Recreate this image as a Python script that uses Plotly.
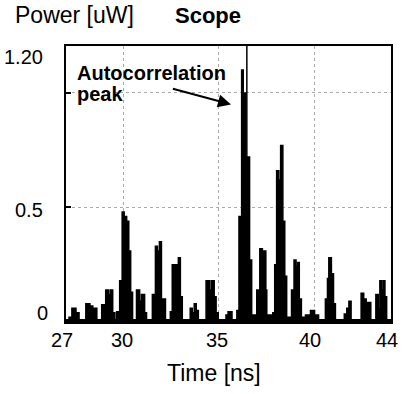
import plotly.graph_objects as go

# Step-shaped scope trace: segment start times (ns) and power levels (uW)
seg_start_ns = [27.00, 27.16, 27.31, 27.52, 27.68, 28.04, 28.25, 28.40, 28.61, 28.87,
                29.08, 29.24, 29.34, 29.44, 29.55, 29.65, 29.76, 29.81, 29.94, 30.04,
                30.17, 30.28, 30.38, 30.48, 30.69, 30.85, 30.95, 31.11, 31.21, 31.52,
                31.68, 31.78, 31.89, 31.99, 32.20, 32.46, 32.56, 32.88, 32.98, 33.08,
                33.50, 33.60, 33.71, 33.81, 33.92, 34.33, 34.49, 34.59, 34.75, 34.85,
                34.96, 35.37, 35.48, 35.68, 35.94, 36.05, 36.19, 36.27, 36.40, 36.60,
                36.71, 36.98, 37.14, 37.27, 37.35, 37.45, 37.50, 37.82, 37.92, 38.02,
                38.13, 38.23, 38.34, 38.44, 38.54, 38.80, 38.93, 39.03, 39.12, 39.20,
                39.31, 39.53, 39.79, 40.00, 40.21, 40.57, 40.68, 40.75, 40.88, 40.99,
                41.09, 41.56, 41.69, 41.80, 41.91, 42.44, 42.57, 42.70, 42.94, 43.21,
                43.33, 43.42, 43.50, 43.59, 43.68, 43.77]
power_uw = [0.01, 0.02, 0.06, 0.04, 0.01, 0.08, 0.07, 0.06, 0.01, 0.075,
            0.14, 0.12, 0.14, 0.04, 0.01, 0.045, 0.0, 0.18, 0.48, 0.46,
            0.44, 0.31, 0.13, 0.01, 0.14, 0.09, 0.12, 0.04, 0.01, 0.12,
            0.33, 0.31, 0.35, 0.10, 0.01, 0.045, 0.25, 0.28, 0.11, 0.01,
            0.06, 0.04, 0.08, 0.05, 0.01, 0.18, 0.14, 0.18, 0.11, 0.04,
            0.01, 0.03, 0.045, 0.01, 0.05, 0.46, 1.10, 1.00, 0.72, 0.27,
            0.03, 0.14, 0.32, 0.30, 0.31, 0.14, 0.03, 0.04, 0.25, 0.66,
            0.62, 0.77, 0.44, 0.20, 0.02, 0.14, 0.27, 0.24, 0.26, 0.10,
            0.02, 0.03, 0.05, 0.03, 0.01, 0.10, 0.19, 0.28, 0.21, 0.08,
            0.01, 0.035, 0.06, 0.09, 0.01, 0.125, 0.10, 0.085, 0.01, 0.12,
            0.06, 0.18, 0.14, 0.18, 0.11, 0.01]
t_end = 44.0
cursor_ns = 36.46

x_tick_vals = [27, 30, 35, 40, 44]
x_tick_text = ["27", "30", "35", "40", "44"]
x_grid_vals = [30, 35, 40]
y_tick_vals = [0, 0.5, 1.2]
y_tick_text = ["0", "0.5", "1.20"]
y_grid_vals = [0.5, 1.0]

FONT = "Arial, Liberation Sans, Helvetica, sans-serif"

xs = seg_start_ns + [t_end]
ys = power_uw + [power_uw[-1]]

fig = go.Figure()
fig.add_trace(go.Scatter(
    x=xs, y=ys, mode="lines", line_shape="hv",
    line=dict(color="black", width=1.6),
    fill="tozeroy", fillcolor="black", hoverinfo="skip", showlegend=False,
))

fig.update_layout(
    width=402, height=394,
    margin=dict(l=66, r=9, t=46, b=72),
    paper_bgcolor="white", plot_bgcolor="white",
    font=dict(family=FONT, color="black", size=20),
    showlegend=False,
    xaxis=dict(range=[27, 44], tickvals=x_grid_vals, showticklabels=False, ticks="",
               showgrid=True, gridcolor="#aaaaaa", griddash="dot", gridwidth=1,
               showline=True, linecolor="black", linewidth=1.5, mirror=True, zeroline=False),
    yaxis=dict(range=[0, 1.205], tickvals=y_grid_vals, showticklabels=False,
               ticks="inside", ticklen=5, tickwidth=1.5, tickcolor="black",
               showgrid=True, gridcolor="#aaaaaa", griddash="dot", gridwidth=1,
               showline=True, linecolor="black", linewidth=1.5, mirror=True, zeroline=False),
)

# cursor line at the autocorrelation peak
fig.add_shape(type="line", xref="x", yref="paper", x0=cursor_ns, x1=cursor_ns, y0=0, y1=1,
              line=dict(color="black", width=1.5))

# x tick labels (placed in paper coordinates so the end labels are not hidden)
x_label_paper = [-0.012, 0.171, 0.465, 0.752, 0.988]
for txt, xp in zip(x_tick_text, x_label_paper):
    fig.add_annotation(x=xp, xref="paper", y=-0.065, yref="paper", text=txt, showarrow=False,
                       xanchor="center", yanchor="middle", font=dict(size=20))
# y tick labels
y_label_pos = [(-0.05, 0.033), (-0.064, 0.406), (-0.064, 0.96)]
for txt, (xp, yp) in zip(y_tick_text, y_label_pos):
    fig.add_annotation(x=xp, xref="paper", y=yp, yref="paper", text=txt, showarrow=False,
                       xanchor="right", yanchor="middle", font=dict(size=20))

# titles
fig.add_annotation(x=-0.162, xref="paper", y=1.112, yref="paper", text="Power [uW]",
                   showarrow=False, xanchor="left", yanchor="middle", font=dict(size=23))
fig.add_annotation(x=0.33, xref="paper", y=1.112, yref="paper", text="<b>Scope</b>",
                   showarrow=False, xanchor="left", yanchor="middle", font=dict(size=22))
fig.add_annotation(x=0.456, xref="paper", y=-0.185, yref="paper", text="Time [ns]",
                   showarrow=False, xanchor="center", yanchor="middle", font=dict(size=23))

# autocorrelation annotation
fig.add_annotation(x=27.45, xref="x", y=1.087, yref="y", text="<b>Autocorrelation</b>",
                   showarrow=False, xanchor="left", yanchor="middle", font=dict(size=20))
fig.add_annotation(x=27.45, xref="x", y=0.996, yref="y", text="<b>peak</b>",
                   showarrow=False, xanchor="left", yanchor="middle", font=dict(size=20))
fig.add_annotation(x=35.63, y=0.95, xref="x", yref="y", ax=32.51, ay=1.02, axref="x", ayref="y",
                   text="", showarrow=True, arrowhead=2, arrowsize=1.3, arrowwidth=2,
                   arrowcolor="black")

fig.write_html("out.html")
